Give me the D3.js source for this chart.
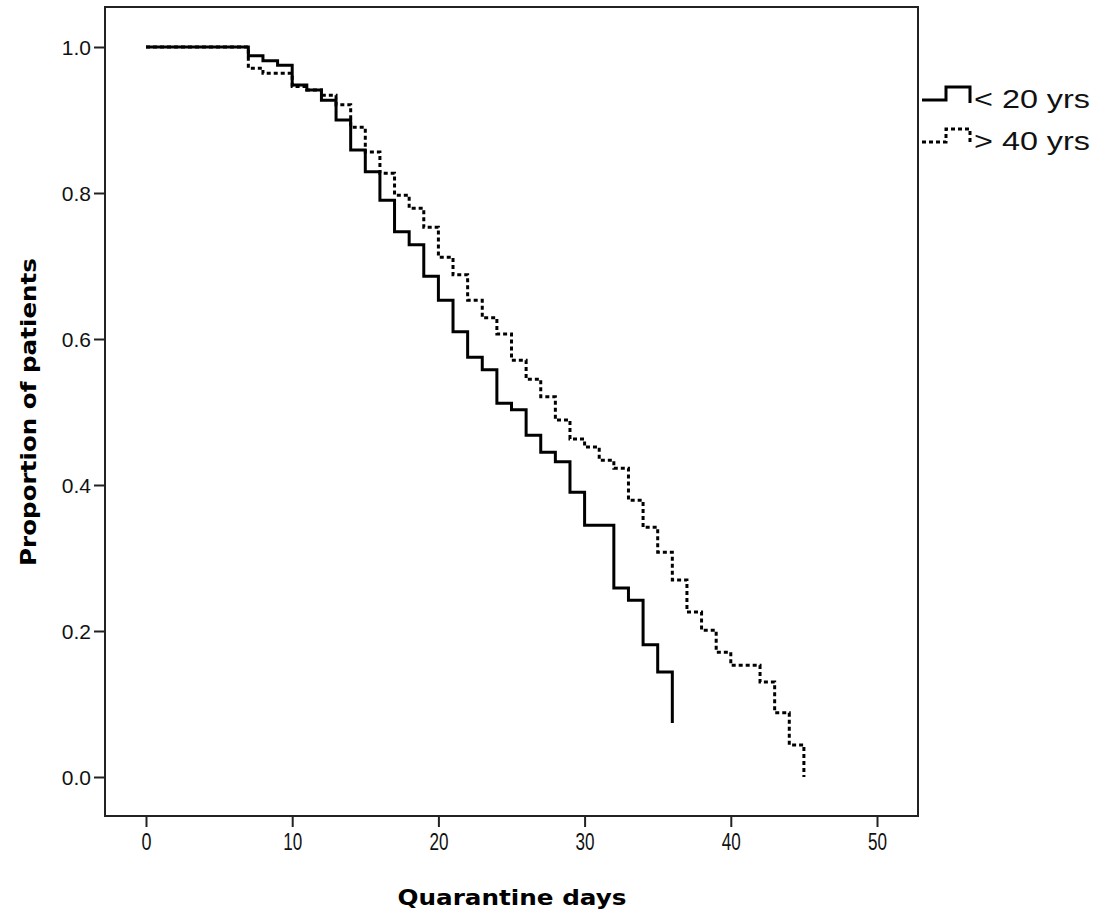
<!DOCTYPE html>
<html>
<head>
<meta charset="utf-8">
<script src="https://cdn.jsdelivr.net/npm/d3@7"></script>
<style>
  body { margin: 0; background: #fff; }
  svg { display: block; }
</style>
</head>
<body>
<svg width="1113" height="913"></svg>
<script>
// survival steps (day of step, proportion after step)
var youngDays = [0, 7, 8, 9, 10, 11, 12, 13, 14, 15, 16, 17, 18, 19, 20, 21, 22, 23, 24, 25, 26, 27, 28, 29, 30, 32, 33, 34, 35, 36];
var youngVals = [1.0, 0.988, 0.981, 0.975, 0.948, 0.941, 0.927, 0.900, 0.859, 0.829, 0.790, 0.747, 0.729, 0.686, 0.653, 0.610, 0.575, 0.558, 0.512, 0.503, 0.468, 0.445, 0.432, 0.390, 0.345, 0.259, 0.242, 0.181, 0.144, 0.074];

var oldDays = [0, 7, 8, 10, 11, 12, 13, 14, 15, 16, 17, 18, 19, 20, 21, 22, 23, 24, 25, 26, 27, 28, 29, 30, 31, 32, 33, 34, 35, 36, 37, 38, 39, 40, 42, 43, 44, 45];
var oldVals = [1.0, 0.971, 0.964, 0.946, 0.941, 0.934, 0.921, 0.890, 0.856, 0.827, 0.797, 0.779, 0.753, 0.712, 0.688, 0.653, 0.629, 0.607, 0.571, 0.545, 0.521, 0.489, 0.463, 0.452, 0.434, 0.423, 0.379, 0.342, 0.308, 0.270, 0.226, 0.201, 0.171, 0.153, 0.130, 0.088, 0.044, 0.0];

var xTicks = [0, 10, 20, 30, 40, 50];
var yTicks = [0.0, 0.2, 0.4, 0.6, 0.8, 1.0];
var seriesNames = ["< 20 yrs", "> 40 yrs"];

var svg = d3.select("svg");

// frame of the plot area
var frame = { left: 105, right: 918, top: 7, bottom: 816 };

var x = d3.scaleLinear().domain([0, 50]).range([146, 877]);
var y = d3.scaleLinear().domain([0, 1]).range([777, 47]);

svg.append("rect")
  .attr("x", frame.left)
  .attr("y", frame.top)
  .attr("width", frame.right - frame.left)
  .attr("height", frame.bottom - frame.top)
  .attr("fill", "none")
  .attr("stroke", "#222")
  .attr("stroke-width", 2);

// X axis
var xAxis = svg.append("g")
  .attr("transform", "translate(0," + frame.bottom + ")")
  .call(d3.axisBottom(x).tickValues(xTicks).tickSize(11).tickPadding(7).tickFormat(d3.format("d")));
xAxis.select(".domain").remove();
xAxis.selectAll("line").attr("stroke", "#222").attr("stroke-width", 2);
xAxis.selectAll("text")
  .attr("fill", "#111")
  .attr("textLength", function (d) { return d < 10 ? 10 : 19; })
  .attr("lengthAdjust", "spacingAndGlyphs")
  .style("font-family", "'Liberation Sans', Arial, sans-serif")
  .style("font-size", "23px");

// Y axis
var yAxis = svg.append("g")
  .attr("transform", "translate(" + frame.left + ",0)")
  .call(d3.axisLeft(y).tickValues(yTicks).tickSize(11).tickPadding(3).tickFormat(d3.format(".1f")));
yAxis.select(".domain").remove();
yAxis.selectAll("line").attr("stroke", "#222").attr("stroke-width", 2);
yAxis.selectAll("text")
  .attr("fill", "#111")
  .attr("dy", "0.36em")
  .style("font-family", "'Liberation Sans', Arial, sans-serif")
  .style("font-size", "21px");

// axis titles
svg.append("text")
  .attr("x", 512)
  .attr("y", 905)
  .attr("text-anchor", "middle")
  .attr("textLength", 229)
  .attr("lengthAdjust", "spacingAndGlyphs")
  .style("font-family", "'DejaVu Sans', Verdana, sans-serif")
  .style("font-weight", "bold")
  .style("font-size", "21px")
  .text("Quarantine days");

svg.append("text")
  .attr("transform", "translate(36,412) rotate(-90)")
  .attr("text-anchor", "middle")
  .attr("textLength", 308)
  .attr("lengthAdjust", "spacingAndGlyphs")
  .style("font-family", "'DejaVu Sans', Verdana, sans-serif")
  .style("font-weight", "bold")
  .style("font-size", "21px")
  .text("Proportion of patients");

// step curves
var line = d3.line()
  .x(function (d) { return x(d[0]); })
  .y(function (d) { return y(d[1]); })
  .curve(d3.curveStepAfter);

var oldData = oldDays.map(function (d, i) { return [d, oldVals[i]]; });
var youngData = youngDays.map(function (d, i) { return [d, youngVals[i]]; });

svg.append("path")
  .datum(oldData)
  .attr("d", line)
  .attr("fill", "none")
  .attr("stroke", "#000")
  .attr("stroke-width", 3)
  .attr("stroke-dasharray", "4,3");

svg.append("path")
  .datum(youngData)
  .attr("d", line)
  .attr("fill", "none")
  .attr("stroke", "#000")
  .attr("stroke-width", 3);

// legend
var legend = svg.selectAll(".legend")
  .data(seriesNames)
  .enter().append("g")
  .attr("class", "legend")
  .attr("transform", function (d, i) { return "translate(0," + i * 42 + ")"; });

legend.append("path")
  .attr("d", "M922,100H946V87H970V103")
  .attr("fill", "none")
  .attr("stroke", "#000")
  .attr("stroke-width", 3)
  .attr("stroke-dasharray", function (d, i) { return i == 1 ? "4,3" : null; });

legend.append("text")
  .attr("x", 974)
  .attr("y", 108)
  .attr("textLength", 116)
  .attr("lengthAdjust", "spacingAndGlyphs")
  .style("font-family", "'Liberation Sans', Arial, sans-serif")
  .style("font-size", "26px")
  .style("font-weight", "500")
  .attr("fill", "#111")
  .text(function (d) { return d; });
</script>
</body>
</html>
